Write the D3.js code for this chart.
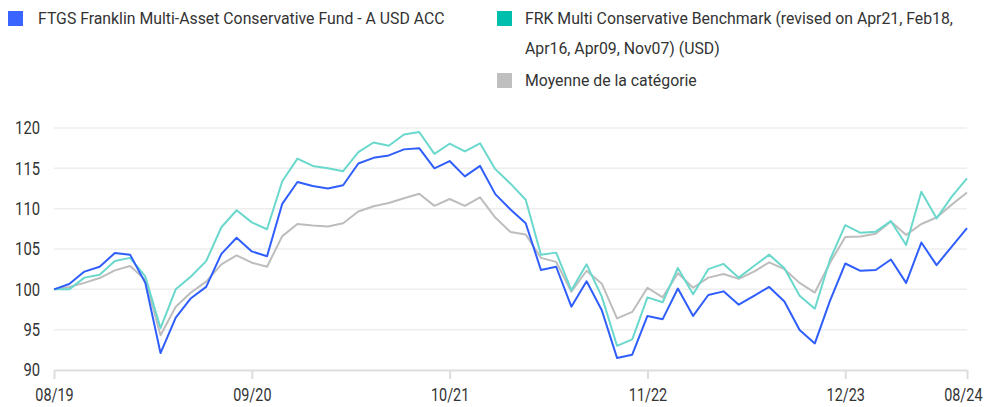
<!DOCTYPE html>
<html>
<head>
<meta charset="utf-8">
<script src="https://cdn.jsdelivr.net/npm/d3@7"></script>
<style>
  body { margin: 0; background: #fff; }
  text { font-family: "Roboto", "Liberation Sans", sans-serif; fill: #333; }
</style>
</head>
<body>
<div id="chart"></div>
<script>
// Monthly values, rebased to 100 at 08/19
const months = d3.range(0, 61); // 0 = Aug 2019 ... 60 = Aug 2024
const xTickMonths = [0, 13, 26, 39, 52, 60];
const xTickLabels = ["08/19", "09/20", "10/21", "11/22", "12/23", "08/24"];
const yTicks = [90, 95, 100, 105, 110, 115, 120];

const fund = [100, 100.66, 102.2, 102.8, 104.5, 104.3, 100.8, 92.1, 96.5, 98.9,
  100.3, 104.4, 106.4, 104.7, 104.1, 110.6, 113.3, 112.8, 112.5, 112.9,
  115.6, 116.3, 116.6, 117.35, 117.5, 115.0, 115.9, 114.0, 115.3, 111.8,
  109.9, 108.2, 102.4, 102.8, 97.85, 101.0, 97.4, 91.5, 91.9, 96.7,
  96.3, 100.1, 96.7, 99.3, 99.75, 98.1, 99.2, 100.3, 98.5, 94.95,
  93.3, 98.6, 103.2, 102.3, 102.4, 103.7, 100.8, 105.8, 103.0, 105.3, 107.6];

const benchmark = [100, 100.0, 101.45, 101.8, 103.5, 103.9, 101.6, 95.2, 100.0, 101.6,
  103.5, 107.7, 109.8, 108.3, 107.45, 113.4, 116.2, 115.3, 115.0, 114.65,
  117.0, 118.2, 117.8, 119.2, 119.5, 116.8, 118.05, 117.1, 118.1, 114.9,
  113.1, 111.1, 104.3, 104.55, 99.9, 103.1, 99.1, 93.0, 93.8, 99.0,
  98.4, 102.65, 99.4, 102.5, 103.15, 101.45, 102.9, 104.3, 102.6, 99.2,
  97.6, 103.7, 107.95, 107.0, 107.15, 108.45, 105.5, 112.1, 108.8, 111.5, 113.75];

const category = [100, 100.3, 100.8, 101.4, 102.35, 102.9, 101.2, 94.3, 97.85, 99.6,
  100.95, 103.1, 104.2, 103.3, 102.8, 106.6, 108.1, 107.9, 107.8, 108.2,
  109.65, 110.3, 110.7, 111.3, 111.85, 110.35, 111.2, 110.35, 111.4, 108.9,
  107.1, 106.8, 103.9, 103.4, 99.7, 102.3, 100.7, 96.4, 97.2, 100.2,
  99.0, 102.0, 100.2, 101.45, 101.9, 101.3, 102.2, 103.35, 102.5, 100.8,
  99.6, 103.3, 106.5, 106.55, 106.9, 108.4, 106.75, 108.1, 108.9, 110.5, 112.0];

const seriesNames = [
  "FTGS Franklin Multi-Asset Conservative Fund - A USD ACC",
  "FRK Multi Conservative Benchmark (revised on Apr21, Feb18,",
  "Apr16, Apr09, Nov07) (USD)",
  "Moyenne de la catégorie"
];

const width = 987, height = 407;
const margin = {top: 128, right: 20, bottom: 37, left: 54};

const svg = d3.select("#chart").append("svg")
  .attr("width", width)
  .attr("height", height);

const x = d3.scaleLinear().domain([0, 60]).range([margin.left, width - margin.right]);
const y = d3.scaleLinear().domain([90, 120]).range([height - margin.bottom, margin.top]);

// squeeze text horizontally to mimic the condensed face of the original
function condense(sel, ratio) {
  sel.each(function() {
    const w = this.getComputedTextLength();
    d3.select(this).attr("textLength", w * ratio).attr("lengthAdjust", "spacingAndGlyphs");
  });
}

// gridlines
svg.append("g")
  .selectAll("line")
  .data(yTicks.filter(d => d > 90))
  .enter()
  .append("line")
  .attr("x1", x(0)).attr("x2", x(60))
  .attr("y1", d => y(d)).attr("y2", d => y(d))
  .attr("stroke", "#eeeeee")
  .attr("stroke-width", 1.5);

// y labels
svg.append("g")
  .selectAll("text")
  .data(yTicks)
  .enter()
  .append("text")
  .attr("x", 40)
  .attr("y", d => y(d))
  .attr("dy", "0.36em")
  .attr("text-anchor", "end")
  .attr("font-size", "18px")
  .text(d => d)
  .call(condense, 0.82);

// x axis
const xAxis = d3.axisBottom(x)
  .tickValues(xTickMonths)
  .tickFormat((d, i) => xTickLabels[i])
  .tickSize(9)
  .tickSizeOuter(0)
  .tickPadding(9);

const gx = svg.append("g")
  .attr("transform", "translate(0," + y(90) + ")")
  .call(xAxis);
gx.select(".domain").attr("stroke", "#dddddd").attr("stroke-width", 2);
gx.selectAll(".tick line").attr("stroke", "#dddddd").attr("stroke-width", 2);
gx.selectAll(".tick text")
  .attr("font-size", "18px")
  .attr("fill", "#333")
  .style("font-family", "Roboto, sans-serif")
  .call(condense, 0.8);
// keep the last label inside the frame
gx.selectAll(".tick text").filter((d, i, n) => i === n.length - 1)
  .attr("text-anchor", "end")
  .attr("x", 15);

// lines
const line = d3.line()
  .x((d, i) => x(months[i]))
  .y(d => y(d));

const series = [
  {values: category, color: "#bdbdbd"},
  {values: benchmark, color: "#6ad8cc"},
  {values: fund, color: "#2f5efc"}
];

svg.append("g")
  .selectAll("path")
  .data(series)
  .enter()
  .append("path")
  .attr("d", d => line(d.values))
  .attr("fill", "none")
  .attr("stroke", d => d.color)
  .attr("stroke-width", 2)
  .attr("stroke-linejoin", "round");

// legend
const legend = svg.append("g");
const legendItems = [
  {sx: 8, sy: 11, color: "#3a64ff", lines: [seriesNames[0]], tx: 38, ty: 24},
  {sx: 497, sy: 11, color: "#00c0ad", lines: [seriesNames[1], seriesNames[2]], tx: 525, ty: 24},
  {sx: 497, sy: 73, color: "#bfbfbf", lines: [seriesNames[3]], tx: 525, ty: 86}
];
legendItems.forEach(item => {
  legend.append("rect")
    .attr("x", item.sx).attr("y", item.sy)
    .attr("width", 15).attr("height", 15)
    .attr("fill", item.color);
  item.lines.forEach((t, j) => {
    legend.append("text")
      .attr("x", item.tx)
      .attr("y", item.ty + j * 30)
      .attr("font-size", "17px")
      .text(t)
      .call(condense, 0.93);
  });
});
</script>
</body>
</html>
